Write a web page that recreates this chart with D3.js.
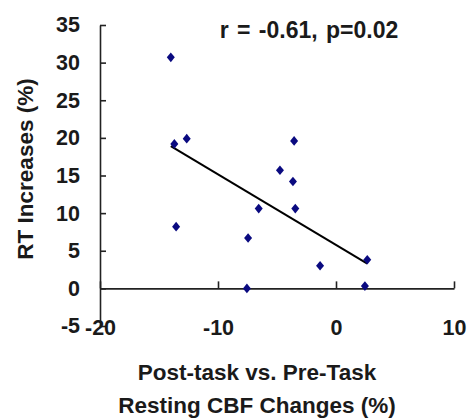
<!DOCTYPE html>
<html>
<head>
<meta charset="utf-8">
<script src="https://cdn.jsdelivr.net/npm/d3@7"></script>
<style>
  html, body { margin: 0; padding: 0; background: #fff; }
  svg { display: block; }
  text { font-family: "Liberation Sans", Arial, sans-serif; fill: #1a1a1a; font-weight: bold; }
</style>
</head>
<body>
<svg id="chart" width="468" height="418"></svg>
<script>
// Resting CBF change (x, %) vs. RT increase (y, %) for each subject
const cbfChange = [-14.0, -13.7, -12.65, -13.55, -3.55, -4.75, -3.65, -3.45, -6.55, -7.45, -7.55, -1.35, 2.65, 2.45];
const rtIncrease = [30.7, 19.2, 19.9, 8.2, 19.6, 15.7, 14.2, 10.6, 10.6, 6.7, 0.0, 3.0, 3.8, 0.3];

const xTicks = [-20, -10, 0, 10];
const yTicks = [-5, 0, 5, 10, 15, 20, 25, 30, 35];
const statLabel = "r = -0.61, p=0.02";
const xTitleLines = ["Post-task vs. Pre-Task", "Resting CBF Changes (%)"];
const yTitle = "RT Increases (%)";

const svg = d3.select("#chart");

const x = d3.scaleLinear().domain([-20, 10]).range([100, 454]);
const y = d3.scaleLinear().domain([-5, 35]).range([326, 25]);

const axisColor = "#222";
const plainNum = d => String(d);   // ASCII hyphen for negatives

// Y axis: ticks point inward, labels on the left
const yAxis = svg.append("g")
  .attr("transform", `translate(${x(-20)},0)`)
  .call(d3.axisLeft(y).tickValues(yTicks).tickFormat(plainNum)
    .tickSize(-6).tickSizeOuter(0).tickPadding(20));

// X axis runs along y = 0 with upward ticks; labels sit below the plot
const xAxis = svg.append("g")
  .attr("transform", `translate(0,${y(0)})`)
  .call(d3.axisBottom(x).tickValues(xTicks).tickFormat(plainNum)
    .tickSize(-7).tickSizeOuter(0).tickPadding(31));

[yAxis, xAxis].forEach(g => {
  g.attr("font-family", null).attr("font-size", null);
  g.select(".domain").attr("stroke", axisColor).attr("stroke-width", 1.6);
  g.selectAll(".tick line").attr("stroke", axisColor).attr("stroke-width", 1.6);
  g.selectAll(".tick text").attr("fill", "#1a1a1a").style("font-size", "21.5px");
});

// Least-squares trend line across the data range
const n = cbfChange.length;
const mx = d3.mean(cbfChange), my = d3.mean(rtIncrease);
let sxy = 0, sxx = 0;
for (let i = 0; i < n; i++) {
  sxy += (cbfChange[i] - mx) * (rtIncrease[i] - my);
  sxx += (cbfChange[i] - mx) ** 2;
}
const slope = sxy / sxx, intercept = my - slope * mx;
const [x0, x1] = d3.extent(cbfChange);
svg.append("line")
  .attr("x1", x(x0)).attr("y1", y(intercept + slope * x0))
  .attr("x2", x(x1)).attr("y2", y(intercept + slope * x1))
  .attr("stroke", "#000").attr("stroke-width", 2);

// Diamond markers
const diamond = "M0,-4.8L4,0L0,4.8L-4,0Z";
svg.append("g").selectAll("path")
  .data(d3.range(n))
  .join("path")
  .attr("d", diamond)
  .attr("transform", i => `translate(${x(cbfChange[i])},${y(rtIncrease[i])})`)
  .attr("fill", "#0a0a80");

// Correlation annotation
svg.append("text")
  .attr("x", 309).attr("y", 38)
  .attr("text-anchor", "middle")
  .style("font-size", "23px")
  .style("word-spacing", "2px")
  .text(statLabel);

// Axis titles
svg.append("text")
  .attr("text-anchor", "middle")
  .style("font-size", "22.5px")
  .selectAll("tspan")
  .data(xTitleLines)
  .join("tspan")
  .attr("x", 257)
  .attr("y", (d, i) => 380 + i * 33)
  .text(d => d);

svg.append("text")
  .attr("transform", `translate(33,169) rotate(-90)`)
  .attr("text-anchor", "middle")
  .style("font-size", "22.5px")
  .text(yTitle);
</script>
</body>
</html>
